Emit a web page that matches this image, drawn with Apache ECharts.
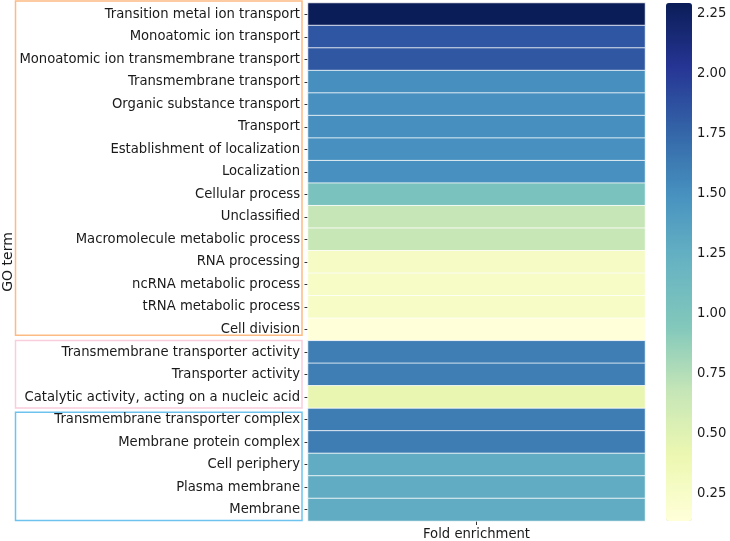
<!DOCTYPE html>
<html>
<head>
<meta charset="utf-8">
<script src="https://cdn.jsdelivr.net/npm/echarts@6/dist/echarts.min.js"></script>
<style>
html,body{margin:0;padding:0;background:#fff;}
#c{width:730px;height:541px;}
</style>
</head>
<body>
<div id="c"></div>
<script>
var terms = [
  'Transition metal ion transport',
  'Monoatomic ion transport',
  'Monoatomic ion transmembrane transport',
  'Transmembrane transport',
  'Organic substance transport',
  'Transport',
  'Establishment of localization',
  'Localization',
  'Cellular process',
  'Unclassified',
  'Macromolecule metabolic process',
  'RNA processing',
  'ncRNA metabolic process',
  'tRNA metabolic process',
  'Cell division',
  'Transmembrane transporter activity',
  'Transporter activity',
  'Catalytic activity, acting on a nucleic acid',
  'Transmembrane transporter complex',
  'Membrane protein complex',
  'Cell periphery',
  'Plasma membrane',
  'Membrane'
];
var foldEnrichment = [2.29, 1.84, 1.83, 1.51, 1.50, 1.51, 1.50, 1.50, 1.02, 0.67, 0.66,
  0.27, 0.26, 0.26, 0.134, 1.61, 1.61, 0.44, 1.62, 1.62, 1.27, 1.27, 1.27];
var columns = ['Fold enrichment'];
var groupSizes = [15, 3, 5];
var colorbarTicks = [0.25, 0.5, 0.75, 1.0, 1.25, 1.5, 1.75, 2.0, 2.25];
var colorMin = 0.134, colorMax = 2.293;

var FONT = 'DejaVu Sans';
var FS = 13.2;
var chart = echarts.init(document.getElementById('c'), null, {renderer: 'canvas'});
var data = foldEnrichment.map(function (v, i) { return [0, i, v]; });

var option = {
  backgroundColor: '#fff',
  animation: false,
  textStyle: {fontFamily: FONT},
  grid: [
    {left: 308, top: 3, width: 337, height: 518},
    {left: 666, top: 3, width: 26, height: 518}
  ],
  xAxis: [
    {
      type: 'category', gridIndex: 0, data: columns,
      axisLine: {show: false},
      axisTick: {show: true, alignWithLabel: true, length: 4, lineStyle: {color: '#333', width: 1}},
      axisLabel: {fontSize: FS, color: '#1a1a1a', margin: 7, fontFamily: FONT},
      splitLine: {show: false}
    },
    {type: 'value', gridIndex: 1, show: false, min: 0, max: 1}
  ],
  yAxis: [
    {
      type: 'category', gridIndex: 0, data: terms, inverse: true,
      axisLine: {show: false},
      axisTick: {show: true, alignWithLabel: true, length: 3.5, lineStyle: {color: '#333', width: 1}},
      axisLabel: {fontSize: FS, color: '#1a1a1a', margin: 8, fontFamily: FONT},
      splitLine: {show: false},
      name: 'GO term', nameLocation: 'middle', nameGap: 287, nameRotate: 90,
      nameTextStyle: {fontSize: 14, color: '#1a1a1a', fontFamily: FONT}
    },
    {
      type: 'value', gridIndex: 1, position: 'right', min: colorMin, max: colorMax,
      axisLine: {show: false},
      splitLine: {show: false},
      axisTick: {show: true, length: 4, customValues: colorbarTicks, lineStyle: {color: '#333', width: 1}},
      axisLabel: {show: true, customValues: colorbarTicks, fontSize: FS, color: '#1a1a1a', margin: 5,
        fontFamily: FONT, formatter: function (v) { return Number(v).toFixed(2); }}
    }
  ],
  visualMap: {
    type: 'continuous', min: colorMin, max: colorMax, calculable: false, realtime: false,
    orient: 'vertical', left: 666, top: 3, itemWidth: 26, itemHeight: 518, padding: 0,
    text: null, seriesIndex: 0, hoverLink: false,
    inRange: {color: ['#ffffd9', '#edf8b1', '#c6e6b7', '#82c8bb', '#67b3c2', '#4893c0', '#3466a8', '#263594', '#0b1d57']}
  },
  series: [{
    type: 'heatmap', xAxisIndex: 0, yAxisIndex: 0, data: data,
    itemStyle: {borderColor: '#ffffff', borderWidth: 0.8},
    emphasis: {disabled: true}
  }]
};
chart.setOption(option);

// group boxes around y labels, placed from category band positions
var boxColors = ['#fdbb84', '#f9cddb', '#6ec3ee'];
var c0 = chart.convertToPixel({yAxisIndex: 0}, terms[0]);
var c1 = chart.convertToPixel({yAxisIndex: 0}, terms[1]);
var band = c1 - c0;
var gridTop = c0 - band / 2;
var elements = [];
var start = 0;
var topPad = [2.5, 0.8, -3.3];
var botPad = [5, 0, 0];
for (var g = 0; g < groupSizes.length; g++) {
  var y0 = gridTop + start * band - topPad[g];
  var y1 = gridTop + (start + groupSizes[g]) * band - botPad[g];
  elements.push({
    type: 'rect', silent: true,
    shape: {x: 15.5, y: y0 + 0.5, width: 286.5, height: y1 - y0 - 1},
    style: {fill: 'none', stroke: boxColors[g], lineWidth: 1.5}
  });
  start += groupSizes[g];
}
chart.setOption({graphic: elements});
</script>
</body>
</html>
